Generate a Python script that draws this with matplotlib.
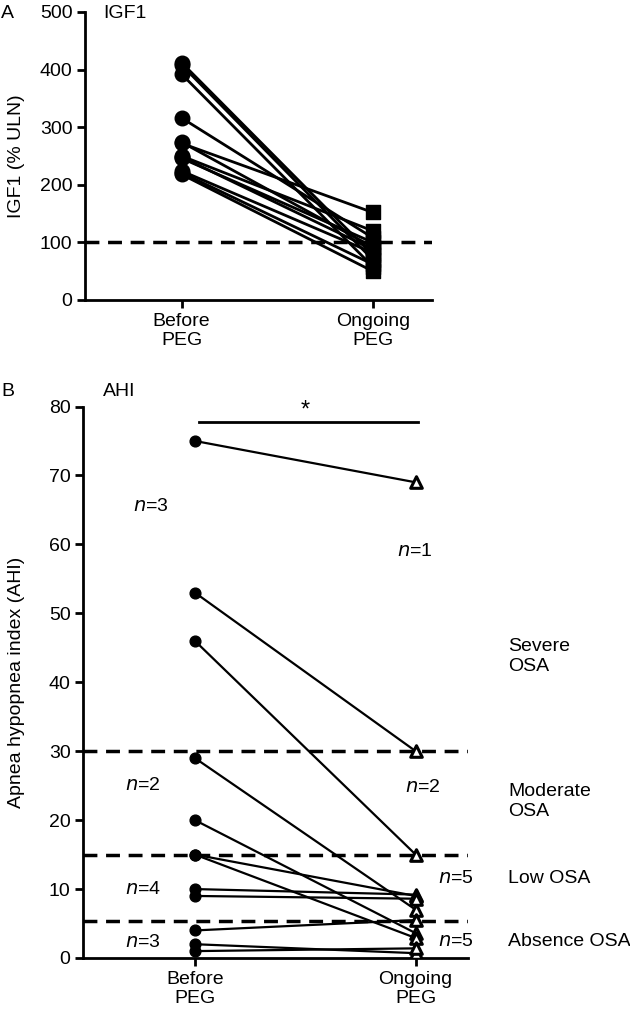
import matplotlib
matplotlib.use("Agg")
import matplotlib.pyplot as plt

plt.rcParams['font.family'] = ['Liberation Sans', 'DejaVu Sans']

# ---------------- data ----------------
groups = ["Before\nPEG", "Ongoing\nPEG"]

igf1_before = [412, 408, 392, 316, 274, 272, 250, 248, 246, 224, 221, 218]
igf1_ongoing = [78, 70, 58, 108, 92, 152, 120, 88, 100, 82, 62, 50]
igf1_uln = 100

ahi_before = [75, 53, 46, 29, 20, 15, 15, 10, 9, 4, 2, 1]
ahi_ongoing = [69, 30, 15, 7, 3.6, 9, 2.9, 9.2, 8.6, 5.5, 0.7, 1.4]
ahi_cutoffs = [30, 15, 5.4]

left_n = [("n=3", 65.5), ("n=2", 25), ("n=4", 10), ("n=3", 2.2)]
right_n = [("n=1", 59), ("n=2", 24.8), ("n=5", 11.5), ("n=5", 2.4)]
severity = [("Severe\nOSA", 43.7), ("Moderate\nOSA", 22.7), ("Low OSA", 11.5), ("Absence OSA", 2.4)]

FS = 14

fig = plt.figure(figsize=(6.3, 10.18), dpi=100)

def style(ax):
    for s in ("top", "right"):
        ax.spines[s].set_visible(False)
    for s in ("left", "bottom"):
        ax.spines[s].set_linewidth(2)
    ax.tick_params(axis="both", direction="out", length=6, width=2, labelsize=FS, pad=3)

# ---------------- panel A ----------------
axA = fig.add_axes([85/630, 1-300/1018, 347/630, 288/1018])
style(axA)
for b, o in zip(igf1_before, igf1_ongoing):
    axA.plot([0, 1], [b, o], color="black", lw=2, zorder=2)
axA.scatter([0]*len(igf1_before), igf1_before, s=110, marker="o", color="black", zorder=3)
axA.scatter([1]*len(igf1_ongoing), igf1_ongoing, s=110, marker="s", color="black", zorder=3)
axA.axhline(igf1_uln, color="black", lw=2.5, ls=(0, (4, 2.5)), zorder=1)
axA.set_xlim(-0.506, 1.31)
axA.set_ylim(0, 500)
axA.set_yticks([0, 100, 200, 300, 400, 500])
axA.set_xticks([0, 1])
axA.set_xticklabels(groups, fontsize=FS)
axA.set_ylabel("IGF1 (% ULN)", fontsize=FS)
axA.yaxis.set_label_coords(-0.173, 0.5)
axA.text(-0.41, 497, "IGF1", fontsize=FS, ha="left", va="center", clip_on=False)
fig.text(0.002, 1-13/1018, "A", fontsize=FS, ha="left", va="center")

# ---------------- panel B ----------------
axB = fig.add_axes([83/630, 1-958/1018, 385/630, 551.5/1018])
style(axB)
for b, o in zip(ahi_before, ahi_ongoing):
    axB.plot([0, 1], [b, o], color="black", lw=1.6, zorder=2)
axB.scatter([0]*len(ahi_before), ahi_before, s=60, marker="o", color="black", zorder=3)
axB.scatter([1]*len(ahi_ongoing), ahi_ongoing, s=70, marker="^", facecolor="white",
            edgecolor="black", linewidth=2.2, zorder=3)
for c in ahi_cutoffs:
    axB.axhline(c, color="black", lw=2.5, ls=(0, (4, 2.5)), zorder=1)
axB.set_xlim(-0.507, 1.237)
axB.set_ylim(0, 80)
axB.set_yticks(range(0, 81, 10))
axB.set_xticks([0, 1])
axB.set_xticklabels(groups, fontsize=FS)
axB.set_ylabel("Apnea hypopnea index (AHI)", fontsize=FS)
axB.yaxis.set_label_coords(-0.151, 0.5)

# significance bracket
axB.plot([0.018, 1.01], [77.7, 77.7], color="black", lw=2, clip_on=False)
axB.text(0.5, 79.4, "*", fontsize=17, ha="center", va="center", clip_on=False)

axB.text(-0.417, 82.2, "AHI", fontsize=FS, ha="left", va="center", clip_on=False)
fig.text(0.002, 1-391/1018, "B", fontsize=FS, ha="left", va="center")

def ntext(x, y, label):
    n, rest = label.split("=")
    axB.text(x, y, r"$\it{n}$" + "=" + rest, fontsize=FS, ha="left", va="center", clip_on=False)

for i, (lab, y) in enumerate(left_n):
    ntext(-0.28 if i == 0 else -0.317, y, lab)
for i, (lab, y) in enumerate(right_n):
    x = [0.915, 0.95, 1.10, 1.10][i]
    ntext(x, y, lab)
for lab, y in severity:
    axB.text(1.418, y, lab, fontsize=FS, ha="left", va="center", clip_on=False, linespacing=1.25)

fig.savefig("out.png", dpi=100)
